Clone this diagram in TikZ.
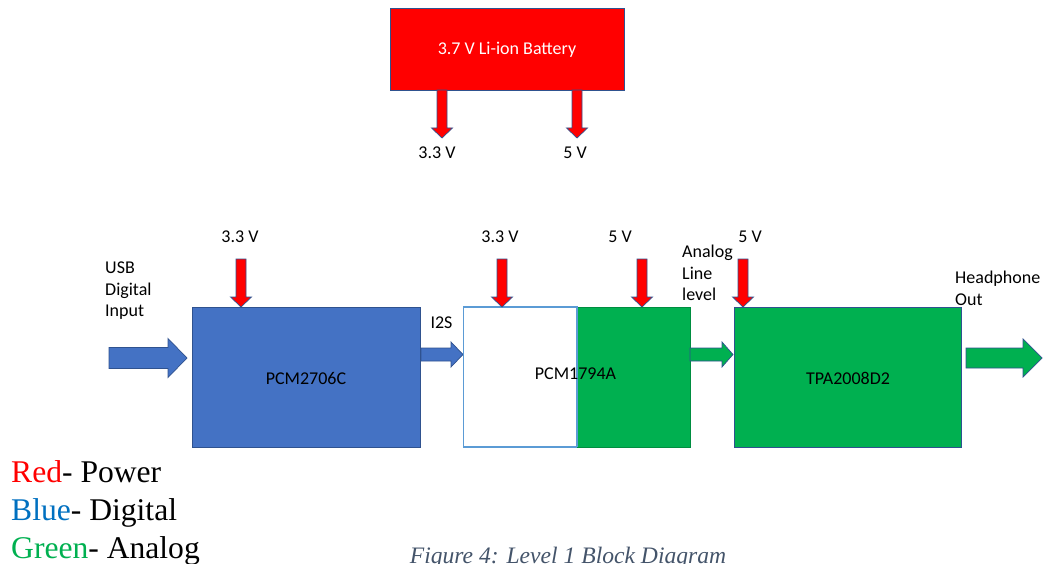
\documentclass[tikz,border=0pt]{standalone}
\usepackage{fontspec}
\setmainfont{Carlito}
\newfontfamily\legendfont{Liberation Serif}
\definecolor{pwr}{HTML}{FF0000}
\definecolor{dig}{HTML}{4472C4}
\definecolor{digline}{HTML}{2F528F}
\definecolor{ana}{HTML}{00B050}
\definecolor{legblue}{HTML}{0070C0}
\definecolor{capcol}{HTML}{44546A}
\definecolor{lightline}{HTML}{5B9BD5}
\newcommand\varrow[4]{%
  \draw[#1] (#2-5,#3) -- (#2+5,#3) -- (#2+5,#4-10) -- (#2+10.5,#4-10) -- (#2,#4)
    -- (#2-10.5,#4-10) -- (#2-5,#4-10) -- cycle;}
\newcommand\harrow[7]{% style, xstart, xheadstart, xtip, ycenter, shaft half, head half
  \draw[#1] (#2,#5-#6) -- (#3,#5-#6) -- (#3,#5-#7) -- (#4,#5) -- (#3,#5+#7)
    -- (#3,#5+#6) -- (#2,#5+#6) -- cycle;}
\tikzset{
  lbl/.style={font=\fontsize{18}{21.5}\selectfont, inner sep=0pt},
  mlbl/.style={lbl, align=left, anchor=north west},
  block/.style={draw=digline, line width=0.8pt},
  pwrarrow/.style={fill=pwr, draw=digline, line width=0.7pt},
  digarrow/.style={fill=dig, draw=digline, line width=0.7pt},
  anaarrow/.style={fill=ana, draw=digline, line width=0.7pt},
  legend/.style={font=\legendfont\fontsize{31.6}{38}\selectfont, inner sep=0pt, anchor=base west}
}
\begin{document}
\begin{tikzpicture}[x=1pt,y=-1pt]
\useasboundingbox (0,0) rectangle (1051,564);
% battery
\draw[block, fill=pwr] (390,8) rectangle (624,90);
\node[lbl, text=white] (bat) at (507,50) {3.7 V Li-ion Battery};
\varrow{pwrarrow}{442}{90}{138}
\varrow{pwrarrow}{577}{90}{138}
\node[lbl] (b33) at (437,153) {3.3 V};
\node[lbl] (b5) at (575,153) {5 V};
% PCM2706C
\draw[block, fill=dig] (192,307) rectangle (420,447);
\node[lbl] (pcm2706) at (306,378) {PCM2706C};
\varrow{pwrarrow}{241}{259}{307}
\node[lbl] (v1) at (240,237) {3.3 V};
\node[mlbl] (usb) at (105,262) {USB\\Digital\\Input};
\harrow{digarrow}{109}{168}{187}{358}{10.5}{19.5}
% I2S
\harrow{digarrow}{421}{451}{463}{354.5}{6.5}{12.5}
\node[lbl] (i2s) at (441.5,323) {I2S};
% PCM1794A
\draw[draw=lightline, line width=1.3pt, fill=white] (463.5,307) rectangle (577,447);
\draw[draw=ana!80!black, line width=0.6pt, fill=ana] (577.5,307) rectangle (690,447);
\draw[lightline, line width=1.3pt] (577,307) -- (577,447);
\node[lbl] (pcm1794) at (575.5,374) {PCM1794A};
\varrow{pwrarrow}{502}{259}{307}
\varrow{pwrarrow}{642}{259}{307}
\node[lbl] (v2) at (500,237) {3.3 V};
\node[lbl] (v3) at (620,237) {5 V};
% analog line
\harrow{anaarrow}{690}{722}{733}{354.5}{6.5}{12.5}
\node[mlbl] (line) at (682,245) {Analog\\Line\\level};
% TPA2008D2
\draw[block, fill=ana] (734,307) rectangle (961,447);
\node[lbl] (tpa) at (848,378) {TPA2008D2};
\varrow{pwrarrow}{743}{259}{307}
\node[lbl] (v4) at (750,237) {5 V};
\harrow{anaarrow}{966}{1023}{1042}{358}{10}{19}
\node[mlbl] (hp) at (955,271) {Headphone\\Out};
% legend
\node[legend] (lr) at (11,482) {\textcolor{pwr}{Red}- Power};
\node[legend] (lb) at (11,520) {\textcolor{legblue}{Blue}- Digital};
\node[legend] (lg) at (11,558) {\textcolor{ana}{Green}- Analog};
% caption
\node[font=\legendfont\itshape\fontsize{23.6}{28}\selectfont, text=capcol, inner sep=0pt, anchor=base] (cap) at (568,563) {Figure 4: Level 1 Block Diagram};
\end{tikzpicture}
\end{document}
